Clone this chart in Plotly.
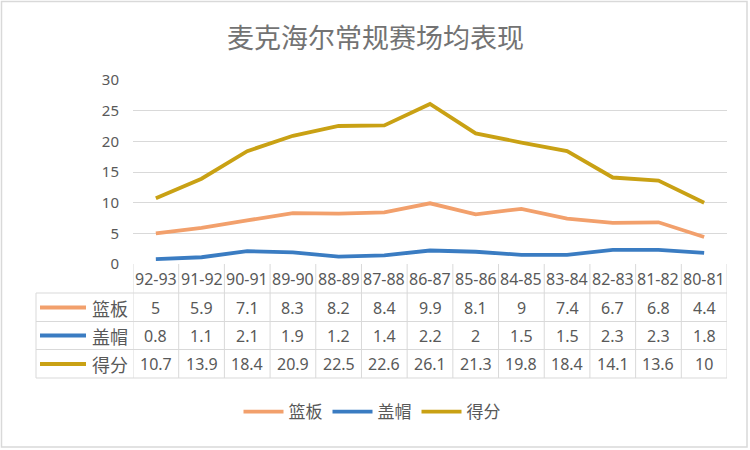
import plotly.graph_objects as go

seasons = ["92-93", "91-92", "90-91", "89-90", "88-89", "87-88", "86-87",
           "85-86", "84-85", "83-84", "82-83", "81-82", "80-81"]
rebounds = [5, 5.9, 7.1, 8.3, 8.2, 8.4, 9.9, 8.1, 9, 7.4, 6.7, 6.8, 4.4]
blocks = [0.8, 1.1, 2.1, 1.9, 1.2, 1.4, 2.2, 2, 1.5, 1.5, 2.3, 2.3, 1.8]
points = [10.7, 13.9, 18.4, 20.9, 22.5, 22.6, 26.1, 21.3, 19.8, 18.4, 14.1, 13.6, 10]
series_names = ["篮板", "盖帽", "得分"]
series_values = [rebounds, blocks, points]
series_colors = ["#F2A06C", "#3A7CC2", "#C9A114"]
y_ticks = [0, 5, 10, 15, 20, 25, 30]
title_text = "麦克海尔常规赛场均表现"

W, H = 750, 450
L, R, T, B = 133, 727, 80, 264
TXT = "#595959"
GRID = "#D9D9D9"
CJK = "Noto Sans CJK SC"
NUM = "Noto Sans, Noto Sans CJK SC"


def px(xp):
    return (xp - L) / (R - L)


def py(yp):
    return (B - yp) / (B - T)


fig = go.Figure()
xs = list(range(len(seasons)))
for name, vals, col in zip(series_names, series_values, series_colors):
    fig.add_trace(go.Scatter(x=xs, y=vals, mode="lines", name=name,
                             line=dict(color=col, width=3.8)))

shapes = []
annotations = []
n = len(seasons)
row_lines = [293, 321.5, 349.5, 378]
for yl in row_lines:
    shapes.append(dict(type="line", xref="paper", yref="paper",
                       x0=px(36), x1=px(R), y0=py(yl), y1=py(yl),
                       line=dict(color=GRID, width=1)))
for i in range(n + 1):
    shapes.append(dict(type="line", xref="x", yref="paper",
                       x0=i - 0.5, x1=i - 0.5, y0=py(B), y1=py(378),
                       line=dict(color=GRID, width=1)))
shapes.append(dict(type="line", xref="paper", yref="paper",
                   x0=px(36), x1=px(36), y0=py(293), y1=py(378),
                   line=dict(color=GRID, width=1)))
shapes.append(dict(type="rect", xref="paper", yref="paper",
                   x0=px(1.5), x1=px(747), y0=py(1.5), y1=py(447),
                   line=dict(color="#D9D9D9", width=1.5)))

header_y = 279
row_centers = [307.5, 335.5, 364]
for i, s in enumerate(seasons):
    annotations.append(dict(x=i, y=py(header_y), xref="x", yref="paper",
                            xanchor="center", yanchor="middle",
                            text=s, showarrow=False,
                            font=dict(family=NUM, size=16, color=TXT)))
for r, (name, vals, col) in enumerate(zip(series_names, series_values, series_colors)):
    yc = py(row_centers[r])
    shapes.append(dict(type="line", xref="paper", yref="paper",
                       x0=px(40), x1=px(86), y0=yc, y1=yc,
                       line=dict(color=col, width=3.8)))
    annotations.append(dict(x=px(130), y=yc, xref="paper", yref="paper",
                            xanchor="right", yanchor="middle",
                            text=name, showarrow=False,
                            font=dict(family=CJK, size=18, color=TXT)))
    for i, v in enumerate(vals):
        annotations.append(dict(x=i, y=yc, xref="x", yref="paper",
                                xanchor="center", yanchor="middle",
                                text=f"{v:g}", showarrow=False,
                                font=dict(family=NUM, size=16, color=TXT)))

annotations.append(dict(x=px(375), y=py(36), xref="paper", yref="paper",
                        xanchor="center", yanchor="middle",
                        text=title_text, showarrow=False,
                        font=dict(family=CJK, size=27, color="#737373")))

fig.update_layout(
    width=W, height=H,
    margin=dict(l=L, r=W - R, t=T, b=H - B, pad=0),
    paper_bgcolor="white", plot_bgcolor="white",
    showlegend=True,
    legend=dict(orientation="h", x=px(372), xanchor="center",
                y=py(412), yanchor="middle",
                font=dict(family=CJK, size=17, color=TXT),
                itemwidth=40, tracegroupgap=0),
    xaxis=dict(range=[-0.5, n - 0.5], showticklabels=False, showgrid=False,
               zeroline=False, showline=False, fixedrange=True),
    yaxis=dict(range=[0, 30], tickvals=y_ticks, showgrid=True,
               gridcolor=GRID, gridwidth=1, zeroline=False, showline=False,
               ticks="", ticklabelstandoff=13,
               tickfont=dict(family=NUM, size=15, color=TXT)),
    shapes=shapes,
    annotations=annotations,
)

fig.write_html("out.html")
